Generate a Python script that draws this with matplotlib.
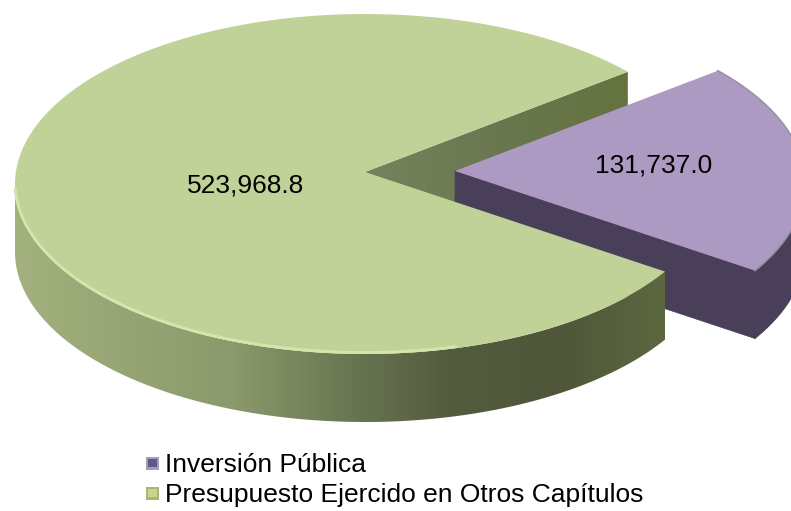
"""Exploded 3D-look pie: Inversion Publica vs other chapters."""

import numpy as np
import matplotlib
matplotlib.use("Agg")
import matplotlib.pyplot as plt
from matplotlib.colors import LinearSegmentedColormap
from matplotlib.patches import Polygon, Rectangle

categories = ["Inversión Pública", "Presupuesto Ejercido en Otros Capítulos"]
values = [131737.0, 523968.8]
value_labels = ["131,737.0", "523,968.8"]

W, H = 791, 511
START_ANGLE = -31.0      # rim angle where the purple slice begins
RX, RY = 350, 170        # rim ellipse, pixels
DEPTH = 68
GREEN_APEX = (365, 172)
GREEN_RIM_CENTER = (365, 184)
EXPLODE = 90             # purple slice shift to the right

plt.rcParams["font.family"] = ["Liberation Sans", "DejaVu Sans"]

fracs = np.array(values) / sum(values)
purple_t0 = START_ANGLE
purple_t1 = START_ANGLE + fracs[0] * 360
green_t0 = purple_t1
green_t1 = purple_t1 + fracs[1] * 360


def rim(t0, t1, cx, cy, n=200):
    t = np.radians(np.linspace(t0, t1, n))
    return np.column_stack([cx + RX * np.cos(t), cy - RY * np.sin(t)])


def gradient_fill(ax, poly_pts, cmap, zorder):
    patch = Polygon(poly_pts, closed=True, fc="none", ec="none", zorder=zorder)
    ax.add_patch(patch)
    x0, x1 = poly_pts[:, 0].min(), poly_pts[:, 0].max()
    y0, y1 = poly_pts[:, 1].min(), poly_pts[:, 1].max()
    img = ax.imshow(np.linspace(0, 1, 256)[None, :], cmap=cmap, aspect="auto",
                    extent=(x0, x1, y1, y0), zorder=zorder, interpolation="bilinear")
    img.set_clip_path(patch)


fig = plt.figure(figsize=(W / 100, H / 100), dpi=100)
ax = fig.add_axes([0, 0, 1, 1])

green_wall = LinearSegmentedColormap.from_list(
    "green_wall", ["#a3b17e", "#97a574", "#8b9a6c", "#6c7953", "#545c40", "#4f5639", "#5c6840"])
inner_wall = LinearSegmentedColormap.from_list("inner_wall", ["#75835c", "#6a7750", "#65733f"])

# back radial wall of the green slice, shows in the gap
g_end = rim(green_t0, green_t0, *GREEN_RIM_CENTER, n=1)[0]
gap = np.array([GREEN_APEX, g_end, g_end + [0, DEPTH],
                [GREEN_APEX[0], GREEN_APEX[1] + DEPTH]])
gradient_fill(ax, gap, inner_wall, 1)

# purple slice: walls then top
p_apex = np.array([GREEN_APEX[0] + EXPLODE, GREEN_APEX[1] - 1])
p_rim = rim(purple_t0, purple_t1, GREEN_RIM_CENTER[0] + EXPLODE, GREEN_RIM_CENTER[1] - 1)
p_wall_rim = rim(purple_t0, 0, GREEN_RIM_CENTER[0] + EXPLODE, GREEN_RIM_CENTER[1] - 1)
wall = np.vstack([[p_apex], p_wall_rim[:1], p_wall_rim[:1] + [0, DEPTH],
                  [p_apex + [0, DEPTH]]])
ax.add_patch(Polygon(wall, closed=True, fc="#4a3f58", ec="#4a3f58", lw=0.5, zorder=2))
outer = np.vstack([p_wall_rim, (p_wall_rim + [0, DEPTH])[::-1]])
ax.add_patch(Polygon(outer, closed=True, fc="#4a3f58", ec="#4a3f58", lw=0.5, zorder=2))
ax.add_patch(Polygon(np.vstack([[p_apex], p_rim]), closed=True,
                     fc="#ad9ac2", ec="none", zorder=3))
ax.plot(p_rim[:, 0], p_rim[:, 1], color="#9a90a8", lw=1.2, zorder=3)

# green slice: outer wall then top
g_wall_rim = rim(180, 360 + purple_t0, *GREEN_RIM_CENTER)
g_wall = np.vstack([g_wall_rim, (g_wall_rim + [0, DEPTH])[::-1]])
gradient_fill(ax, g_wall, green_wall, 4)
g_rim = rim(green_t0, green_t1, *GREEN_RIM_CENTER, n=400)
ax.add_patch(Polygon(np.vstack([[GREEN_APEX], g_rim]), closed=True,
                     fc="#c1d298", ec="none", zorder=5))
glow = rim(182, 285, GREEN_RIM_CENTER[0], GREEN_RIM_CENTER[1] - 1.5)
ax.plot(glow[:, 0], glow[:, 1], color="#d6e6aa", lw=2, zorder=6)

ax.text(654, 166, value_labels[0], ha="center", va="center", fontsize=19, color="black", zorder=7)
ax.text(246, 186, value_labels[1], ha="center", va="center", fontsize=19, color="black", zorder=7)

# legend, drawn by hand to get the small bevelled keys
legend_y = [463, 493]
legend_colors = [("#a0a0b4", "#5c5a8c"), ("#a8b674", "#c6d68c")]
for name, y, (edge, face) in zip(categories, legend_y, legend_colors):
    ax.add_patch(Rectangle((146, y - 6), 13, 13, fc=edge, ec="none", zorder=7))
    ax.add_patch(Rectangle((148, y - 4), 9, 8, fc=face, ec="none", zorder=8))
    ax.text(165, y + 2, name, ha="left", va="center", fontsize=19, color="black", zorder=8)

ax.set_xlim(0, W)
ax.set_ylim(H, 0)
ax.axis("off")
fig.savefig("out.png", dpi=100, facecolor="white")
